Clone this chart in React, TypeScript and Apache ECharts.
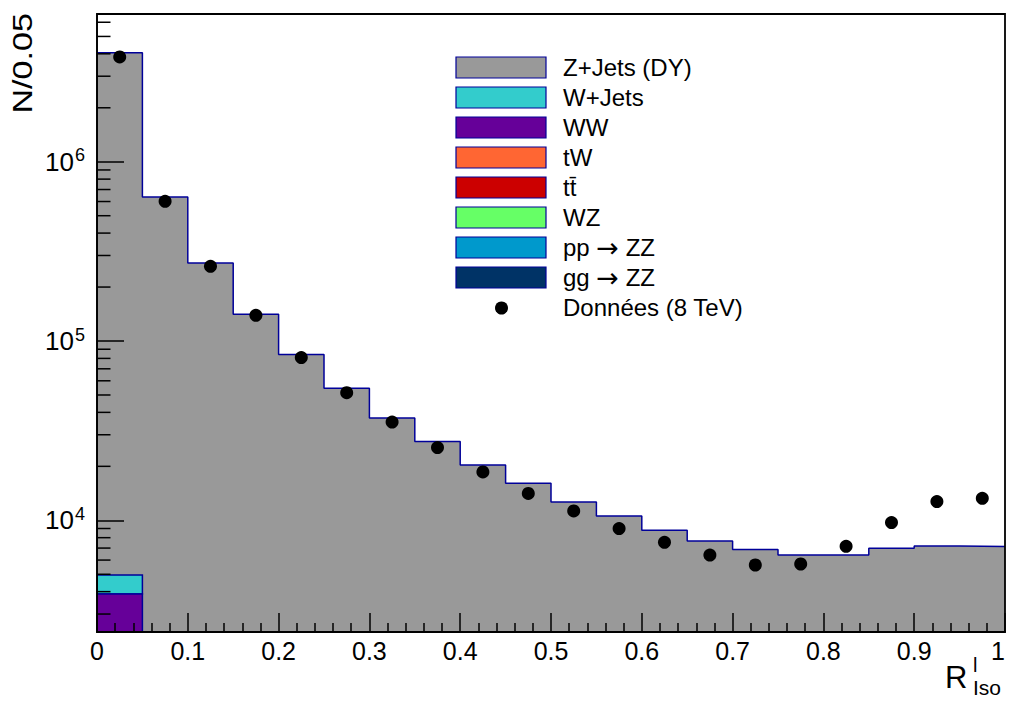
import React, { useEffect, useRef } from "react";
import * as echarts from "echarts";

const FONT = "'Liberation Sans', Arial, Helvetica, sans-serif";

// Bin edges of R_Iso histogram (21 edges, 20 bins)
const binEdges = [0, 0.05, 0.1, 0.15, 0.2, 0.25, 0.3, 0.35, 0.4, 0.45, 0.5, 0.55, 0.6, 0.65, 0.7, 0.75, 0.8, 0.85, 0.9, 0.95, 1.0];

// Total stacked MC (Z+Jets on top of the stack) per bin
const stackTotal = [4060000, 635500, 272300, 140900, 84000, 54470, 37200, 27480, 20340, 16080, 12650, 10570, 8795, 7655, 6873, 6404, 6404, 6980, 7190, 7135];

// Visible small components (only first bin visible above axis minimum)
const wwCounts = [3880];
const wjetsCounts = [1075];

// Data points (8 TeV)
const dataX = [0.025, 0.075, 0.125, 0.175, 0.225, 0.275, 0.325, 0.375, 0.425, 0.475, 0.525, 0.575, 0.625, 0.675, 0.725, 0.775, 0.825, 0.875, 0.925, 0.975];
const dataY = [3840000, 601500, 260900, 139100, 80800, 51540, 35340, 25440, 18600, 14110, 11270, 8990, 7540, 6395, 5632, 5705, 7161, 9710, 12720, 13270];

// Y minor tick values (log axis)
const yMinorTicks = [3000, 4000, 5000, 6000, 7000, 8000, 9000, 20000, 30000, 40000, 50000, 60000, 70000, 80000, 90000, 200000, 300000, 400000, 500000, 600000, 700000, 800000, 900000, 2000000, 3000000, 4000000, 5000000, 6000000];

const legendLabels = ["Z+Jets (DY)", "W+Jets", "WW", "tW", "tt\u0304", "WZ", "pp {arr|\u2192} ZZ", "gg {arr|\u2192} ZZ"];
const legendColors = ["#999999", "#33cccc", "#660099", "#ff6633", "#cc0000", "#66ff66", "#0099cc", "#003366"];
const dataLabel = "Donn\u00e9es (8 TeV)";

const OUTLINE = "#000099";
const Y_MIN = 2382;
const Y_MAX = 6670000;

export default function App() {
  const ref = useRef<HTMLDivElement>(null);

  useEffect(() => {
    if (!ref.current) return;
    const chart = echarts.init(ref.current, undefined, { renderer: "svg" });

    const stepData = binEdges.map((e, i) => [e, stackTotal[Math.min(i, stackTotal.length - 1)]]);

    const wwData = wwCounts.map((v, i) => [binEdges[i], binEdges[i + 1], 0, v]);
    const wjData = wjetsCounts.map((v, i) => [binEdges[i], binEdges[i + 1], wwCounts[i] || 0, (wwCounts[i] || 0) + v]);

    const rectRender = (color: string) => (params: any, api: any) => {
      const x0 = api.value(0);
      const x1 = api.value(1);
      const lo = api.value(2);
      const hi = api.value(3);
      const cs = params.coordSys;
      const pTop = api.coord([x0, hi]);
      const pR = api.coord([x1, hi]);
      const yBottom = lo > 0 ? api.coord([x0, lo])[1] : cs.y + cs.height;
      return {
        type: "rect",
        shape: { x: pTop[0], y: pTop[1], width: pR[0] - pTop[0], height: yBottom - pTop[1] },
        style: { fill: color, stroke: OUTLINE, lineWidth: 1.5 },
      };
    };

    const legendGraphics: any[] = [];
    legendLabels.forEach((lab, i) => {
      const top = 57 + 30 * i;
      legendGraphics.push({
        type: "rect",
        shape: { x: 456, y: top, width: 90, height: 21 },
        style: { fill: legendColors[i], stroke: OUTLINE, lineWidth: 1.2 },
        z: 100,
      });
      legendGraphics.push({
        type: "text",
        x: 563,
        y: top + 10.5,
        style: {
          text: lab,
          font: `24px ${FONT}`,
          fill: "#000",
          verticalAlign: "middle",
          align: "left",
          rich: { arr: { fontFamily: "'DejaVu Sans', sans-serif", fontSize: 27, fill: "#000" } },
        },
        z: 100,
      });
    });
    legendGraphics.push({
      type: "circle",
      shape: { cx: 501.5, cy: 308, r: 6.5 },
      style: { fill: "#000" },
      z: 100,
    });
    legendGraphics.push({
      type: "text",
      x: 563,
      y: 57 + 30 * 8 + 10.5,
      style: { text: dataLabel, font: `24px ${FONT}`, fill: "#000", verticalAlign: "middle", align: "left" },
      z: 100,
    });

    const option: any = {
      animation: false,
      backgroundColor: "#ffffff",
      grid: { left: 97, right: 4, top: 14, bottom: 70, containLabel: false, outerBoundsMode: "none" },
      xAxis: {
        type: "value",
        min: 0,
        max: 1,
        interval: 0.1,
        z: 10,
        axisLine: { show: true, lineStyle: { color: "#000", width: 1.5 } },
        axisTick: { show: true, inside: true, length: 19, lineStyle: { color: "#000", width: 1.5 } },
        minorTick: { show: true, splitNumber: 5, length: 9, lineStyle: { color: "#000", width: 1.5 } },
        splitLine: { show: false },
        axisLabel: {
          fontSize: 25,
          fontFamily: FONT,
          color: "#000",
          margin: 6,
          showMinLabel: true,
          showMaxLabel: true,
          alignMaxLabel: "right",
          formatter: (v: number) => (Math.abs(v) < 1e-9 ? "0" : Math.abs(v - 1) < 1e-9 ? "1" : v.toFixed(1)),
        },
      },
      yAxis: {
        type: "log",
        logBase: 10,
        min: Y_MIN,
        max: Y_MAX,
        z: 10,
        axisLine: { show: true, lineStyle: { color: "#000", width: 1.5 } },
        axisTick: { show: true, inside: true, length: 27, lineStyle: { color: "#000", width: 1.5 } },
        splitLine: { show: false },
        axisLabel: {
          margin: 12,
          color: "#000",
          formatter: (v: number) => {
            const l = Math.log10(v);
            if (Math.abs(l - Math.round(l)) < 1e-6) return `{a|10}{b|${Math.round(l)}}`;
            return "";
          },
          rich: {
            a: { fontSize: 26, fontFamily: FONT, color: "#000" },
            b: { fontSize: 18, fontFamily: FONT, color: "#000", padding: [0, 0, 13, 1] },
          },
        },
      },
      series: [
        {
          name: "Z+Jets (DY)",
          type: "line",
          step: "end",
          data: stepData,
          symbol: "none",
          lineStyle: { color: OUTLINE, width: 1.5 },
          areaStyle: { color: "#999999", opacity: 1, origin: "start" },
          z: 2,
        },
        {
          name: "W+Jets",
          type: "custom",
          renderItem: rectRender("#33cccc"),
          data: wjData,
          encode: { x: [0, 1], y: [3] },
          clip: true,
          z: 3,
        },
        {
          name: "WW",
          type: "custom",
          renderItem: rectRender("#660099"),
          data: wwData,
          encode: { x: [0, 1], y: [3] },
          clip: true,
          z: 4,
        },
        {
          name: dataLabel,
          type: "scatter",
          data: dataX.map((x, i) => [x, dataY[i]]),
          symbol: "circle",
          symbolSize: 13,
          itemStyle: { color: "#000", opacity: 1 },
          z: 6,
        },
        {
          name: "yMinor",
          type: "custom",
          data: yMinorTicks.map((v) => [0, v]),
          renderItem: (params: any, api: any) => {
            const p = api.coord([api.value(0), api.value(1)]);
            return {
              type: "line",
              shape: { x1: p[0], y1: p[1], x2: p[0] + 13.5, y2: p[1] },
              style: { stroke: "#000", lineWidth: 1.5 },
            };
          },
          silent: true,
          z: 8,
        },
      ],
      graphic: [
        {
          type: "rect",
          shape: { x: 97, y: 14, width: 908, height: 618 },
          style: { fill: "none", stroke: "#000", lineWidth: 1.8 },
          z: 50,
          silent: true,
        },
        {
          type: "text",
          x: 23,
          y: 13,
          rotation: Math.PI / 2,
          scaleX: 1.22,
          style: { text: "N/0.05", font: `28px ${FONT}`, fill: "#000", align: "right", verticalAlign: "middle" },
          z: 100,
        },
        {
          type: "text",
          x: 945,
          y: 677,
          style: { text: "R", font: `31px ${FONT}`, fill: "#000", align: "left", verticalAlign: "middle" },
          z: 100,
        },
        {
          type: "text",
          x: 973,
          y: 665,
          style: { text: "l", font: `20px ${FONT}`, fill: "#000", align: "left", verticalAlign: "middle" },
          z: 100,
        },
        {
          type: "text",
          x: 973,
          y: 687,
          style: { text: "Iso", font: `21px ${FONT}`, fill: "#000", align: "left", verticalAlign: "middle" },
          z: 100,
        },
        ...legendGraphics,
      ],
    };

    chart.setOption(option);
    return () => chart.dispose();
  }, []);

  return <div ref={ref} style={{ position: "absolute", left: 0, top: 0, width: 1009, height: 702 }} />;
}
